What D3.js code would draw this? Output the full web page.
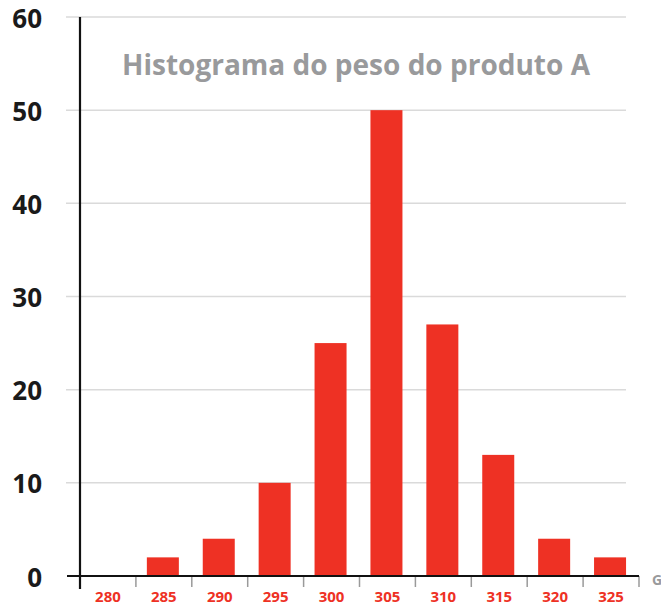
<!DOCTYPE html>
<html>
<head>
<meta charset="utf-8">
<script src="https://cdn.jsdelivr.net/npm/d3@7/dist/d3.min.js"></script>
<style>
  html, body { margin: 0; padding: 0; background: #fff; overflow: hidden; }
  svg { display: block; }
</style>
</head>
<body>
<svg id="chart" width="661" height="605"></svg>
<script>
// Weight classes (g) and counts per class
const bins = ["280", "285", "290", "295", "300", "305", "310", "315", "320", "325"];
const counts = [0, 2, 4, 10, 25, 50, 27, 13, 4, 2];
const yTicks = [0, 10, 20, 30, 40, 50, 60];
const title = "Histograma do peso do produto A";
const unitLabel = "G";

const svg = d3.select("#chart");

const x = d3.scaleBand().domain(bins).range([80, 639]).paddingInner(0).paddingOuter(0);
const y = d3.scaleLinear().domain([0, 60]).range([576, 17]);

const barW = 32;
const red = "#ee3124";

// horizontal gridlines
svg.append("g")
  .selectAll("line")
  .data(yTicks.filter(d => d > 0))
  .join("line")
  .attr("x1", 66).attr("x2", 626)
  .attr("y1", d => y(d)).attr("y2", d => y(d))
  .attr("stroke", "#dadada").attr("stroke-width", 1.5);

// title
svg.append("text")
  .attr("x", 356).attr("y", 75)
  .attr("text-anchor", "middle")
  .attr("font-family", "'Open Sans', sans-serif")
  .attr("font-weight", 700)
  .attr("font-size", 28)
  .attr("fill", "#999a9c")
  .text(title);

// bars
svg.append("g")
  .selectAll("rect")
  .data(bins.map((b, i) => ({ b, v: counts[i] })).filter(d => d.v > 0))
  .join("rect")
  .attr("x", d => x(d.b) + (x.bandwidth() - barW) / 2 - 1)
  .attr("width", barW)
  .attr("y", d => y(d.v))
  .attr("height", d => y(0) - y(d.v))
  .attr("fill", red);

// x ticks at class boundaries
const edges = bins.map(b => x(b)).concat([x(bins[bins.length - 1]) + x.bandwidth()]);
svg.append("g")
  .selectAll("line")
  .data(edges.slice(1))
  .join("line")
  .attr("x1", d => d).attr("x2", d => d)
  .attr("y1", 576).attr("y2", 587)
  .attr("stroke", "#9a9a9a").attr("stroke-width", 1.5);

// axes
svg.append("line")
  .attr("x1", 67).attr("x2", 639)
  .attr("y1", y(0)).attr("y2", y(0))
  .attr("stroke", "#111").attr("stroke-width", 2.2);
svg.append("line")
  .attr("x1", 80).attr("x2", 80)
  .attr("y1", y(60)).attr("y2", 589)
  .attr("stroke", "#111").attr("stroke-width", 2.2);

// y labels
svg.append("g")
  .selectAll("text")
  .data(yTicks)
  .join("text")
  .attr("x", 42)
  .attr("y", d => y(d) + 10.5)
  .attr("text-anchor", "end")
  .attr("font-family", "'Open Sans', sans-serif")
  .attr("font-weight", 700)
  .attr("font-size", 26)
  .attr("fill", "#1a1a1a")
  .text(d => d);

// x labels, centred on each class
svg.append("g")
  .selectAll("text")
  .data(bins)
  .join("text")
  .attr("x", d => x(d) + x.bandwidth() / 2)
  .attr("y", 602)
  .attr("text-anchor", "middle")
  .attr("font-family", "'Open Sans', sans-serif")
  .attr("font-weight", 700)
  .attr("font-size", 15)
  .attr("fill", red)
  .text(d => d);

// unit label at the end of the axis (runs past the right edge)
svg.append("text")
  .attr("x", 652).attr("y", 585)
  .attr("font-family", "'Open Sans', sans-serif")
  .attr("font-weight", 700)
  .attr("font-size", 14)
  .attr("fill", "#999a9c")
  .text(unitLabel);
</script>
</body>
</html>
